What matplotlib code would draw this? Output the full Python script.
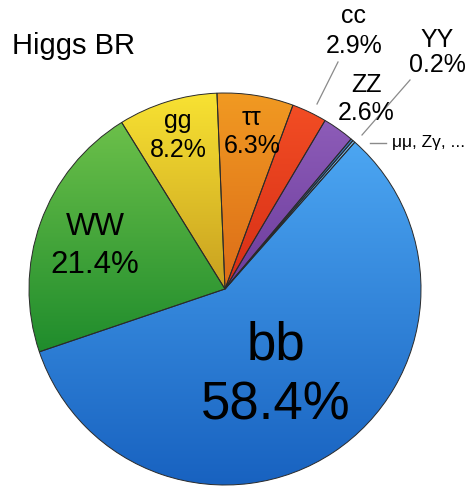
import numpy as np
import matplotlib.pyplot as plt
from matplotlib.colors import to_rgb

plt.rcParams['font.family'] = ['Liberation Sans', 'DejaVu Sans']

# Higgs branching ratios (percent), counterclockwise from the bb slice
channels = ['bb', 'μμ, Zγ, ...', 'YY', 'ZZ', 'cc', 'ττ', 'gg', 'WW']
br = [58.4, 0.2, 0.2, 2.6, 2.9, 6.3, 8.2, 21.4]
top_colors = ['#4ca6f2', '#7cc2f7', '#3f7fc8', '#8d5cb8', '#f24d24', '#f19a22', '#f8e232', '#6cc04a']
bottom_colors = ['#1862c0', '#3a8ee0', '#1f4f96', '#6c3c9c', '#d62e16', '#dc6c18', '#c8a020', '#1f8c2c']

W, H = 468, 487


def fy(y):
    # pixel row (from top) -> data y
    return H - y


fig = plt.figure(figsize=(W / 100, H / 100), dpi=100)
ax = fig.add_axes([0, 0, 1, 1])

wedges, _ = ax.pie(br, startangle=198.7, center=(225, fy(289)), radius=196,
                   wedgeprops=dict(linewidth=0.7, edgecolor='#2a2a2a', facecolor='none'))

# vertical gradient fill inside each wedge
for w, c_top, c_bot in zip(wedges, top_colors, bottom_colors):
    bb = w.get_path().get_extents()
    t = np.linspace(0, 1, 256)[:, None, None]
    grad = np.array(to_rgb(c_bot))[None, None, :] * (1 - t) + np.array(to_rgb(c_top))[None, None, :] * t
    img = ax.imshow(grad, extent=(bb.x0, bb.x1, bb.y0, bb.y1), origin='lower',
                    aspect='auto', interpolation='bilinear', zorder=0.5)
    img.set_clip_path(w)
    w.set_zorder(1)

# labels: (x, name baseline, pct baseline, fontsize) in pixels from top
label_pos = {
    'bb': (276, 359, 420, 38),
    'WW': (95, 235, 273, 22.5),
    'gg': (178, 128, 157, 18),
    'ττ': (252, 125, 153, 18),
    'cc': (354, 23, 53, 18),
    'ZZ': (366, 92, 120, 18),
    'YY': (437, 47, 72, 18),
}
for name, v in zip(channels, br):
    if name not in label_pos:
        continue
    x, y1, y2, fs = label_pos[name]
    ax.text(x, fy(y1), name, ha='center', va='baseline', fontsize=fs, zorder=3)
    ax.text(x, fy(y2), f'{v:.1f}%', ha='center', va='baseline', fontsize=fs, zorder=3)

ax.text(392, fy(143), channels[1], ha='left', va='center', fontsize=12.5, zorder=3)

# leader lines
ax.plot([338, 317], [fy(62), fy(104)], color='#8a8a8a', lw=0.9)
ax.plot([410, 362], [fy(80), fy(135)], color='#8a8a8a', lw=0.9)
ax.plot([370, 386], [fy(143), fy(143)], color='#8a8a8a', lw=1.0)

ax.text(12, fy(54), 'Higgs BR', ha='left', va='baseline', fontsize=21)

ax.set_xlim(0, W)
ax.set_ylim(0, H)
ax.set_aspect('equal')
ax.axis('off')

fig.savefig('out.png', dpi=100)
